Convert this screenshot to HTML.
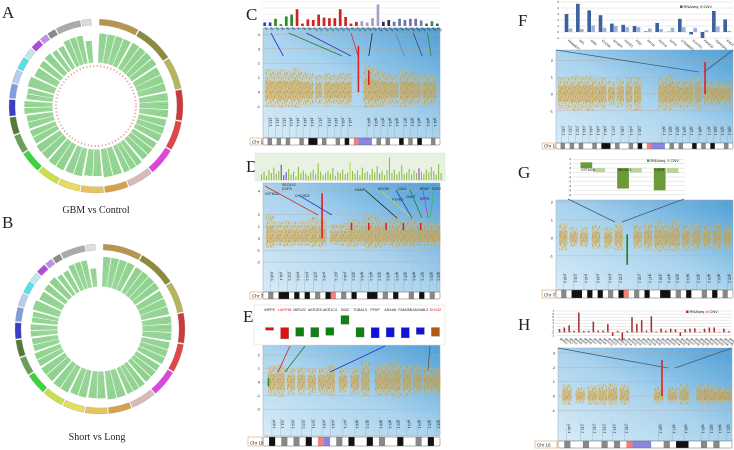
<!DOCTYPE html>
<html><head><meta charset="utf-8"><style>
html,body{margin:0;padding:0;background:#fff}
svg{display:block}
</style></head><body>
<svg id="fig" width="734" height="450" viewBox="0 0 734 450" xmlns="http://www.w3.org/2000/svg" font-family="Liberation Sans, sans-serif">
<defs>
<linearGradient id="blueg" x1="0" y1="1" x2="1" y2="0">
<stop offset="0" stop-color="#d8ecf7"/><stop offset="0.5" stop-color="#a9d3ee"/><stop offset="1" stop-color="#4f9fd6"/>
</linearGradient>
<pattern id="dots" width="7" height="9" patternUnits="userSpaceOnUse">
<rect width="7" height="9" fill="#e2b85a" opacity="0.3"/>
<rect x="0.3" y="0.5" width="0.7" height="2.2" fill="#c98b14"/>
<rect x="2.1" y="3.4" width="0.7" height="1.8" fill="#d69a22"/>
<rect x="4.0" y="0.9" width="0.7" height="2.5" fill="#c98b14"/>
<rect x="5.6" y="5.0" width="0.7" height="2.0" fill="#d9a02c"/>
<rect x="1.2" y="6.1" width="0.7" height="2.2" fill="#c98b14"/>
<rect x="3.2" y="7.0" width="0.7" height="1.6" fill="#e0a830"/>
<rect x="4.8" y="3.0" width="0.6" height="1.4" fill="#b8800e"/>
<rect x="6.3" y="0.2" width="0.6" height="1.8" fill="#d69a22"/>
</pattern>
</defs>
<g id="layer"></g>
</svg>
<script>
// ---------- data ----------
const chrSizes = [249,243,198,191,181,171,159,146,141,136,135,134,115,107,102,90,81,78,59,63,48,51,155,59];
const chrColors = ["#b8954c","#8d8a3c","#b7b45e","#cc3a3a","#e04848","#dd44dd","#d9b8b8","#d9a04a","#e8c35a","#e6dd5e","#c9e04a","#3fd23f","#6aa05a","#557a36","#3a3ec4","#7f9ee0","#b6cdee","#55e2e6","#bde8ee","#b04ae0","#c290e8","#8a8a8a","#aaaaaa","#dddddd"];
const greenOuterA = [0.93,0.95,0.9,0.92,0.9,0.88,0.92,0.9,0.85,0.9,0.92,0.9,0.86,0.85,0.9,0.84,0.88,0.8,0.82,0.84,0.8,0.8,0.9,0.7];
const greenOuterB = [0.97,0.95,0.92,0.95,0.93,0.9,0.92,0.93,0.88,0.9,0.94,0.92,0.9,0.86,0.88,0.85,0.9,0.82,0.84,0.86,0.8,0.8,0.9,0.6];

const cCats = ["g1","g2","g3","g4","g5","g6","g7","g8","g9","g10","g11","g12","g13","g14","g15","g16","g17","g18","g19","g20","g21","g22","g23","g24","g25","g26","g27","g28","g29","g30","g31","g32","g33"];
const cValues = [0.6,0.6,1.2,0.3,1.6,1.9,2.8,0.4,1.1,1.0,1.9,1.4,1.3,1.3,2.8,1.5,0.4,0.7,0.8,0.6,1.3,3.6,0.7,1.0,0.7,1.2,1.0,1.2,1.2,0.9,0.4,0.8,0.4];
const cColors = ["#2a3fd0","#2a3fd0","#2a8a2a","#2a8a2a","#2a8a2a","#2a8a2a","#d02020","#d02020","#d02020","#d02020","#d02020","#d02020","#d02020","#d02020","#d02020","#d02020","#d02020","#d02020","#a99ec8","#a99ec8","#a99ec8","#a99ec8","#2a2a50","#2a2a50","#5a7ab0","#5a7ab0","#7a6ab0","#7a6ab0","#7a6ab0","#5a8aa0","#2a6a6a","#3a8a5a","#2a6a4a"];
const cTicks = [0,1,2,3,4];

const dValues = [0.8,1.2,0.6,1.4,1.0,1.8,0.9,1.3,2.2,0.7,1.1,1.6,0.8,1.2,0.5,1.9,1.0,1.4,0.9,0.6,1.1,1.5,0.8,2.4,1.2,0.7,1.0,1.3,0.9,1.7,0.6,1.2,1.0,1.5,0.8,1.1,2.6,1.3,0.9,1.4,0.7,1.8,1.0,1.2,0.8,1.6,1.1,2.0,0.9,1.3,0.7,1.4,3.2,1.0,1.5,0.8,1.2,2.1,0.9,1.1,1.6,0.8,1.4,1.0,1.7,1.2,0.9,1.5,1.1,1.9,1.3,0.8,2.3,1.0];
const dHighlight = {8:"#5a4ad0",9:"#5a4ad0",10:"#5a4ad0",36:"#c8d84a",48:"#b88a5a",61:"#40c8c8",64:"#a040e0"};

const eGenes = ["INPP5","LARP4B","MIR122","AKR1E5","AKR1C4","GDI2","TUBAL3","PFKP","ANXA8","FAM35B","ANXA8L2","DHX32"];
const eValues = [-0.5,-1.5,-1.2,-1.3,-1.1,1.2,-1.3,-1.4,-1.3,-1.4,-1.0,-1.2];
const eColors = ["#e01010","#e01010","#108010","#108010","#108010","#108010","#108010","#1010e0","#1010e0","#1010e0","#1010e0","#b05a1a"];

const fCats = ["PRAMEF1","RPL","SRM","CLCN6","MTHFR","CASZ1","PGD","KIF1B","PEX14","DFFA","CTNNBIP1","CLSTN1","PIK3CD","TNFRSF9","ENO1"];
const fRna = [3.0,4.7,3.6,2.8,1.4,1.2,1.0,0.1,1.5,0.05,2.2,-0.4,-1.0,3.5,2.1];
const fCnv = [0.6,0.5,1.1,0.7,1.0,0.8,0.8,0.6,0.5,0.7,0.8,0.7,0.3,0.9,0.2];
const fTicks = [-1,0,1,2,3,4,5];

const gCats = ["VSTM2A","SEC61G","EGFR"];
const gRna = [1.3,-4.6,-5.0];
const gCnv = [-0.9,-1.0,-1.1];
const gTicks = [2,1,0,-1,-2,-3,-4,-5,-6];

const hRna = [1.1,1.6,2.3,0.5,6.5,0.5,0.5,3.5,0.6,0.6,2.7,-1.2,0.5,-2.6,0.5,5.0,2.8,4.0,0.6,5.3,0.3,1.2,0.6,1.2,1.0,-1.2,1.0,1.2,1.3,0.2,1.2,1.6,1.6,0.2,1.2,0.4];
const hCnv = [0.3,0.4,0.3,0.2,0.4,0.3,0.2,0.3,0.2,0.3,0.2,0.2,0.3,0.2,0.3,0.4,0.3,0.3,0.2,0.4,0.2,0.3,0.2,0.3,0.2,0.2,0.3,0.2,0.3,0.2,0.3,0.2,0.3,0.2,0.3,0.2];
const hTicks = [-1,0,1,2,3,4,5,6,7];

// scatter bands: chromosome position (0..1), upper spread, lower spread
const cBandPos = [0.02,0.06,0.1,0.14,0.18,0.22,0.26,0.31,0.36,0.4,0.44,0.48,0.59,0.63,0.67,0.71,0.75,0.8,0.84,0.88,0.93,0.97];
const cBandUp = [1.6,1.5,1.6,1.5,1.7,1.4,1.3,1.2,1.3,1.2,1.3,1.3,1.8,1.7,1.5,1.3,1.2,1.5,1.4,1.2,1.3,1.2];
const cBandDn = [1.0,1.0,1.1,1.0,1.1,0.9,0.9,0.8,0.9,0.8,0.9,0.9,1.1,1.1,1.0,0.9,0.8,1.0,0.9,0.8,0.9,0.8];
const dBandPos = [0.03,0.08,0.13,0.18,0.23,0.28,0.33,0.4,0.45,0.5,0.55,0.6,0.65,0.7,0.75,0.8,0.85,0.9,0.95,0.99];
const dBandUp = [2.0,1.4,1.5,1.4,1.5,1.8,1.6,1.2,1.3,1.6,1.5,2.0,1.8,1.4,1.7,1.5,1.6,1.5,1.4,1.3];
const dBandDn = [0.8,0.6,0.7,0.6,0.6,0.7,0.7,0.5,0.6,0.7,0.6,0.9,0.8,0.6,0.7,0.7,0.7,0.6,0.6,0.6];
const eBandPos = [0.04,0.09,0.15,0.21,0.27,0.33,0.38,0.45,0.52,0.58,0.66,0.71,0.76,0.82,0.88,0.94,0.99];
const eBandUp = [1.2,1.3,1.0,1.1,1.0,1.0,1.3,0.9,1.0,1.5,1.3,1.4,1.5,1.3,1.2,1.1,1.0];
const eBandDn = [1.0,1.1,0.9,0.9,0.9,0.9,1.0,0.8,0.9,1.1,1.0,1.0,1.1,1.0,0.9,0.9,0.9];
const fBandPos = [0.02,0.06,0.1,0.14,0.18,0.22,0.26,0.31,0.36,0.41,0.46,0.6,0.64,0.68,0.72,0.76,0.81,0.86,0.9,0.94,0.98];
const fBandUp = [1.0,1.0,1.1,1.0,1.1,0.9,1.0,0.8,0.9,1.0,1.0,1.0,1.2,0.9,0.8,0.9,1.0,0.8,0.7,0.7,0.7];
const fBandDn = [0.9,0.9,1.0,0.9,1.0,0.8,0.9,0.7,0.8,0.9,1.0,0.9,1.0,0.8,0.8,0.8,0.9,0.7,0.7,0.7,0.7];
const gBandPos = [0.03,0.09,0.15,0.22,0.29,0.35,0.46,0.52,0.58,0.63,0.68,0.74,0.8,0.86,0.92,0.98];
const gBandUp = [0.8,0.6,0.6,0.7,0.6,0.8,0.7,0.8,0.9,0.8,1.0,0.7,0.8,0.7,0.8,0.7];
const gBandDn = [0.7,0.5,0.5,0.6,0.6,0.7,0.6,0.7,0.8,0.7,0.8,0.7,0.7,0.6,0.7,0.6];
const hBandPos = [0.04,0.12,0.19,0.25,0.31,0.38,0.58,0.66,0.73,0.83,0.88,0.93,0.98];
const hBandUp = [0.8,0.6,0.7,0.8,0.9,0.8,0.6,0.6,0.8,0.8,0.8,0.6,0.6];
const hBandDn = [0.6,0.5,0.6,0.6,0.6,0.6,0.5,0.5,0.6,0.6,0.6,0.5,0.5];

// ideogram stains: 0 white,1 black,2 gray,3 centromere,4 heterochromatin
const cStain = [0,2,0,2,0,2,0,0,2,0,1,1,0,2,0,0,2,0,1,0,3,4,4,4,0,2,0,2,0,0,1,0,2,0,1,0,0,2,0];
const dStain = [0,2,0,1,1,0,1,0,1,0,2,0,1,3,0,2,0,1,0,0,1,1,0,2,0,1,0,0,2,0,1,0,2,0];
const eStain = [0,1,0,2,0,2,0,1,0,3,4,0,2,0,1,0,0,1,0,2,0,0,1,0,0,2,0,1,0];
const fStain = cStain;
const gStain = dStain;
const hStain = [0,2,0,0,2,0,0,2,0,2,0,3,4,4,4,0,0,2,0,1,1,0,0,2,0,2,0,0];

// ---------- helpers ----------
const NS="http://www.w3.org/2000/svg";
const root=document.getElementById('layer');
function mk(tag,attrs,parent,name){const e=document.createElementNS(NS,tag);for(const k in attrs)e.setAttribute(k,attrs[k]);


(parent||root).appendChild(e);return e;}
function txt(x,y,s,size,parent,name,extra){const t=mk('text',Object.assign({x:x,y:y,'font-size':size,fill:'#222'},extra||{}),parent,name);t.textContent=s;return t;}
function lin(d0,d1,r0,r1){return v=>r0+(v-d0)/(d1-d0)*(r1-r0);}

// ---------- circos ----------
function arcPath(cx,cy,r0,r1,a0,a1){
 const p=(r,a)=>[cx+r*Math.sin(a),cy-r*Math.cos(a)];
 const [x0,y0]=p(r1,a0),[x1,y1]=p(r1,a1),[x2,y2]=p(r0,a1),[x3,y3]=p(r0,a0);
 const lg=(a1-a0)>Math.PI?1:0;
 return `M${x0},${y0}A${r1},${r1} 0 ${lg} 1 ${x1},${y1}L${x2},${y2}A${r0},${r0} 0 ${lg} 0 ${x3},${y3}Z`;}
function circos(cx,cy,R,outer,name,withRed){
 const g=mk('g',{},root,name);
 const total=chrSizes.reduce((a,b)=>a+b,0);
 const gapTop=0.08,gap=0.018;
 const avail=2*Math.PI-gapTop-gap*chrSizes.length;
 const a2=lin(0,total,0,avail);
 let a=gapTop/2;
 const rg0=R*0.5,rg1=R*0.86;
 chrSizes.forEach((s,i)=>{
  const a1=a+a2(s);
  mk('path',{d:arcPath(cx,cy,R*0.93,R,a,a1),fill:chrColors[i],stroke:'#999','stroke-width':0.3},g,'chromosome-'+(i+1));
  const subs=Math.max(1,Math.round(s/60));
  const step=(a1-a)/subs;
  for(let k=0;k<subs;k++){
   const s0=a+k*step+0.006,s1=a+(k+1)*step-0.006;
   const ro=rg0+(rg1-rg0)*outer[i];
   mk('path',{d:arcPath(cx,cy,rg0,ro,s0,s1),fill:'#74c874',opacity:0.9},g,'green-track');
   for(let t=s0+0.012;t<s1;t+=0.02){
    mk('line',{x1:cx+rg0*Math.sin(t),y1:cy-rg0*Math.cos(t),x2:cx+ro*Math.sin(t),y2:cy-ro*Math.cos(t),stroke:'#fff','stroke-width':0.35,opacity:0.5},g,'green-hairline');
   }
  }
  a=a1+gap;
 });
 if(withRed){mk('circle',{cx:cx,cy:cy,r:R*0.46,fill:'none',stroke:'#e06060','stroke-width':2,'stroke-dasharray':'1 2.5',opacity:0.7},g,'red-track');}
}
circos(96,106,87,greenOuterA,'circos-a',true);
circos(100,329,85,greenOuterB,'circos-b',false);
txt(2,18,'A',17,root,'panel-label-a',{'font-family':'Liberation Serif, serif'});
txt(2,228,'B',17,root,'panel-label-b',{'font-family':'Liberation Serif, serif'});
txt(96,213,'GBM vs Control',10,root,'circos-a-title',{'font-family':'Liberation Serif, serif','text-anchor':'middle'});
txt(97,440,'Short vs Long',10,root,'circos-b-title',{'font-family':'Liberation Serif, serif','text-anchor':'middle'});
[['C',246,20],['D',246,172],['E',243,322],['F',518,26],['G',518,178],['H',518,330]].forEach(l=>txt(l[1],l[2],l[0],17,root,'panel-label-'+l[0].toLowerCase(),{'font-family':'Liberation Serif, serif'}));

// ---------- scatter panels ----------
function scatterPanel(L,pos,up,dn,stain,chrName,ticks,name){
 const g=mk('g',{},root,name);
 mk('rect',{x:L.x,y:L.y,width:L.w,height:L.h,fill:'url(#blueg)',stroke:'#9ab','stroke-width':0.5},g,'panel-background');
 const dataH=L.h*0.78;
 const y=lin(L.d0,L.d1,L.y+dataH,L.y+2);
 const x=lin(0,1,L.x+2,L.x+L.w-2);
 ticks.forEach(t=>{mk('line',{x1:L.x,x2:L.x+L.w,y1:y(t),y2:y(t),stroke:'#b9a79a','stroke-width':0.5,opacity:0.7},g,'grid-line');
  txt(L.x-3,y(t)+1.5,String(t),4,g,'y-tick-label',{'text-anchor':'end'});});
 pos.forEach((p,i)=>{
  const w=L.w*L.bw*1.35;
  mk('rect',{x:x(p)-w/2,y:y(up[i]),width:w,height:y(-dn[i])-y(up[i]),fill:'url(#dots)',opacity:0.8},g,'scatter-band');
  mk('rect',{x:x(p)-w/2,y:y(up[i]*0.5),width:w,height:y(-dn[i]*0.5)-y(up[i]*0.5),fill:'#d7961c',opacity:0.35},g,'scatter-band-core');
  mk('line',{x1:x(p),x2:x(p),y1:L.y+dataH+2,y2:L.y+L.h,stroke:'#8a9aa8','stroke-width':0.3},g,'cytoband-tick');
  txt(x(p)+1,L.y+dataH+4,(p<0.5?'p':'q')+(10+i)+'.1',3.5,g,'cytoband-label',{transform:`rotate(90 ${x(p)+1} ${L.y+dataH+4})`});
 });
 const n=stain.length,sw=L.w/n;
 const fills=['#fff','#111','#888','#f08080','#8a86e0'];
 stain.forEach((s,i)=>mk('rect',{x:L.x+i*sw,y:L.sy,width:sw+0.2,height:L.sh,fill:fills[s]},g,'ideogram-band'));
 mk('rect',{x:L.x,y:L.sy,width:L.w,height:L.sh,fill:'none',stroke:'#666','stroke-width':0.5,rx:1},g,'ideogram-outline');
 mk('rect',{x:L.x-L.lw-1,y:L.sy,width:L.lw,height:L.sh,fill:'#fff',stroke:'#e0a060','stroke-width':0.6},g,'chr-label-box');
 txt(L.x-L.lw+1,L.sy+L.sh-1.5,chrName,4.5,g,'chr-label');
 return {x:x,y:y,g:g};
}
const cP=scatterPanel({x:263,y:28,w:177,h:110,d0:-1.5,d1:4.3,bw:0.03,sy:138,sh:7,lw:12},cBandPos,cBandUp,cBandDn,cStain,'Chr 1',[-1,0,1,2,3,4],'scatter-c');
const dP=scatterPanel({x:263,y:183,w:177,h:109,d0:-2.5,d1:4.5,bw:0.035,sy:292,sh:7,lw:12},dBandPos,dBandUp,dBandDn,dStain,'Chr 7',[-2,-1,0,1,2,4],'scatter-d');
const eP=scatterPanel({x:263,y:345,w:177,h:91,d0:-2.5,d1:2.6,bw:0.035,sy:437,sh:9,lw:14},eBandPos,eBandUp,eBandDn,eStain,'Chr 10',[-2,-1,0,1,2],'scatter-e');
const fP=scatterPanel({x:556,y:50,w:177,h:93,d0:-1.7,d1:2.5,bw:0.03,sy:143,sh:6,lw:13},fBandPos,fBandUp,fBandDn,fStain,'Chr 1',[-1,0,1,2],'scatter-f');
const gP=scatterPanel({x:556,y:200,w:177,h:90,d0:-1.8,d1:2,bw:0.035,sy:290,sh:8,lw:13},gBandPos,gBandUp,gBandDn,gStain,'Chr 7',[-1,0,1,2],'scatter-g');
const hP=scatterPanel({x:558,y:348,w:174,h:93,d0:-1.7,d1:3.2,bw:0.04,sy:441,sh:7,lw:22},hBandPos,hBandUp,hBandDn,hStain,'Chr 16',[-1,0,1,2,3],'scatter-h');

function redCol(P,p,lo,hi,color){mk('line',{x1:P.x(p),x2:P.x(p),y1:P.y(hi),y2:P.y(lo),stroke:color||'#e02020','stroke-width':1.6},P.g,'highlight-points');}
redCol(cP,0.54,0,3.2);redCol(cP,0.6,0.5,1.5);
redCol(dP,0.33,0,3.8);[0.5,0.6,0.7,0.8,0.9].forEach(p=>redCol(dP,p,0.7,1.3));
redCol(eP,0.02,-0.3,0.3,'#209020');
redCol(fP,0.85,0,1.9);
redCol(gP,0.4,-1.5,0.2,'#208020');
redCol(hP,0.6,0,2.5);

// ---------- C bar chart ----------
(function(){
 const g=mk('g',{},root,'bar-chart-c');
 const X0=262,W=178,Y0=2,H=24;
 mk('rect',{x:X0,y:Y0,width:W,height:H,fill:'#fff'},g,'plot-area');
 const y=lin(0,4,Y0+H,Y0);
 cTicks.forEach(t=>{mk('line',{x1:X0,x2:X0+W,y1:y(t),y2:y(t),stroke:'#ddd','stroke-width':0.4},g,'grid-line');});
 const bw=W/cValues.length;
 cValues.forEach((v,i)=>{mk('rect',{x:X0+i*bw+bw*0.25,y:y(v),width:bw*0.5,height:y(0)-y(v),fill:cColors[i]},g,'bar-'+cCats[i]);
  txt(X0+i*bw+bw*0.5,Y0+H+2,cCats[i],3,g,'bar-label',{transform:`rotate(45 ${X0+i*bw+bw*0.5} ${Y0+H+2})`});});
 const ar=[[0.05,0.12,'#2030d0'],[0.15,0.45,'#208020'],[0.25,0.5,'#4030b0'],[0.5,0.54,'#d03030'],[0.62,0.6,'#202040'],[0.75,0.8,'#7080b0'],[0.85,0.9,'#404070'],[0.93,0.95,'#308040']];
 ar.forEach(a=>mk('line',{x1:X0+a[0]*W,y1:33,x2:X0+a[1]*W,y2:56,stroke:a[2],'stroke-width':0.8},g,'annotation-arrow'));
})();

// ---------- D bar chart ----------
(function(){
 const g=mk('g',{},root,'bar-chart-d');
 const X0=255,W=190,Y0=153,H=28;
 mk('rect',{x:X0,y:Y0,width:W,height:H,fill:'#e9f2e2',stroke:'#cdd','stroke-width':0.4},g,'plot-area');
 const y=lin(0,3.6,Y0+H-1,Y0+2);
 const bw=(W-8)/dValues.length;
 dValues.forEach((v,i)=>mk('rect',{x:X0+6+i*bw,y:y(v),width:bw*0.45,height:y(0)-y(v),fill:dHighlight[i]||'#8cc04a'},g,'bar'));
 const lbl=[['EGFR',282,190],['SEC61G',282,186],['CHCHD2',295,197],['VSTM2A',265,195],['HAMP',355,191],['MYOM',378,190],['PTPRZ',392,201],['CAV1',398,190],['BRAF',420,190],['EZH2',432,190],['CNOT',406,198],['DPP6',420,200]];
 lbl.forEach(l=>txt(l[1],l[2],l[0],3.5,g,'gene-label'));
 const ar=[[265,186,318,215,'#d03030'],[300,196,332,215,'#2040d0'],[365,190,397,218,'#202020'],[382,192,412,218,'#c8d84a'],[396,190,412,218,'#3040b0'],[410,190,422,218,'#208040'],[423,190,428,218,'#a040e0'],[434,190,430,218,'#30c050']];
 ar.forEach(a=>mk('line',{x1:a[0],y1:a[1],x2:a[2],y2:a[3],stroke:a[4],'stroke-width':0.8},g,'annotation-arrow'));
})();

// ---------- E legend chart ----------
(function(){
 const g=mk('g',{},root,'gene-expression-e');
 const X0=254,W=191,Y0=305,H=40;
 mk('rect',{x:X0,y:Y0,width:W,height:H,fill:'#fff',stroke:'#ddd','stroke-width':0.5},g,'plot-area');
 const y=lin(-2,1.5,Y0+H-2,Y0+8);
 const bw=(W-10)/eGenes.length;
 eGenes.forEach((gn,i)=>{
  const cx=X0+8+i*bw+bw/2;
  txt(cx,Y0+6,gn,3.6,g,'gene-label',{'text-anchor':'middle',fill:(i==1||i==11)?'#d02020':'#222'});
  const v=eValues[i];
  const top=v>0?y(v):y(-0.2),bot=v>0?y(0.2):y(v);
  mk('rect',{x:cx-4,y:top,width:8,height:bot-top,fill:eColors[i],stroke:'#555','stroke-width':0.3},g,'bar-'+gn.toLowerCase());
 });
 [[290,346,278,372,'#d02020'],[305,346,285,372,'#208020'],[385,346,330,372,'#2030d0'],[430,346,428,370,'#705030']].forEach(a=>mk('line',{x1:a[0],y1:a[1],x2:a[2],y2:a[3],stroke:a[4],'stroke-width':0.8},g,'annotation-arrow'));
})();

// ---------- grouped bar helper ----------
function grouped(X0,Y0,W,H,d0,d1,rna,cnv,cats,ticks,c1,c2,name,legend){
 const g=mk('g',{},root,name);
 mk('rect',{x:X0,y:Y0,width:W,height:H,fill:'#fff'},g,'plot-area');
 const y=lin(d0,d1,Y0+H,Y0);
 ticks.forEach(t=>{mk('line',{x1:X0+8,x2:X0+W,y1:y(t),y2:y(t),stroke:'#ccc','stroke-width':0.4},g,'grid-line');
  txt(X0+6,y(t)+1,String(t),3,g,'y-tick-label',{'text-anchor':'end'});});
 const bw=(W-10)/rna.length;
 rna.forEach((v,i)=>{const x=X0+10+i*bw;
  mk('rect',{x:x+bw*0.15,y:Math.min(y(v),y(0)),width:bw*0.32,height:Math.abs(y(0)-y(v)),fill:c1},g,'bar-rnaseq');
  const c=cnv[i];mk('rect',{x:x+bw*0.5,y:Math.min(y(c),y(0)),width:bw*0.32,height:Math.abs(y(0)-y(c)),fill:c2},g,'bar-cnv');
  if(cats)txt(x+bw*0.4,Y0+H+3,cats[i],3.2,g,'category-label',{transform:`rotate(40 ${x+bw*0.4} ${Y0+H+3})`});
 });
 mk('rect',{x:legend[0],y:legend[1]-2.5,width:2.5,height:2.5,fill:c1},g,'legend-swatch-rnaseq');
 txt(legend[0]+3.5,legend[1],'RNAseq',4,g,'legend-rnaseq');
 mk('rect',{x:legend[0]+20,y:legend[1]-2.5,width:2.5,height:2.5,fill:c2},g,'legend-swatch-cnv');
 txt(legend[0]+23.5,legend[1],'CNV',4,g,'legend-cnv');
 return {g:g,y:y};
}
grouped(553,2,180,36,-1,5,fRna,fCnv,fCats,fTicks,'#3c629c','#9cb4dc','bar-chart-f',[680,8]);
mk('line',{x1:556,y1:50,x2:699,y2:72,stroke:'#3a6080','stroke-width':0.8},root,'zoom-line');
mk('line',{x1:733,y1:50,x2:704,y2:72,stroke:'#3a6080','stroke-width':0.8},root,'zoom-line');
const gG=grouped(565,157,120,40,-6.5,2.5,gRna,gCnv,null,gTicks,'#6a9a3a','#b8d49a','bar-chart-g',[647,162]);
gCats.forEach((c,i)=>txt(565+10+i*36.7+6,gG.y(-0.7),c,3.5,gG.g,'category-label'));
mk('line',{x1:568,y1:199,x2:615,y2:222,stroke:'#3a6080','stroke-width':0.8},root,'zoom-line');
mk('line',{x1:684,y1:199,x2:622,y2:222,stroke:'#3a6080','stroke-width':0.8},root,'zoom-line');
grouped(548,308,184,28,-1.2,8,hRna,hCnv,hRna.map((v,i)=>'gene'+(i+1)),hTicks,'#a83030','#e0a0a0','bar-chart-h',[686,313]);
mk('line',{x1:558,y1:348,x2:668,y2:368,stroke:'#3a6080','stroke-width':0.8},root,'zoom-line');
mk('line',{x1:732,y1:348,x2:675,y2:368,stroke:'#3a6080','stroke-width':0.8},root,'zoom-line');
</script>
</body></html>
